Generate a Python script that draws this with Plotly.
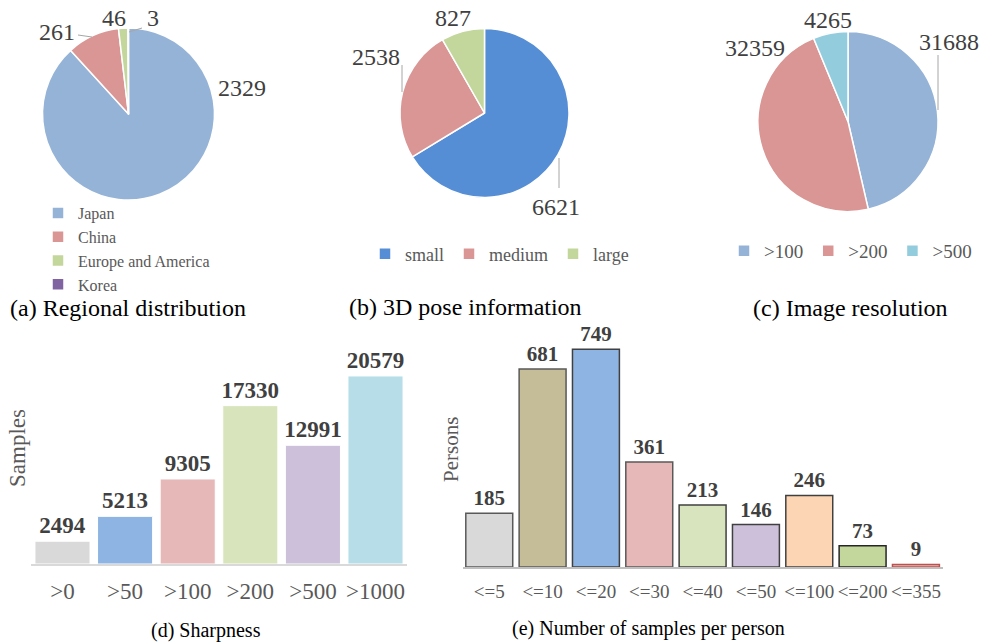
import plotly.graph_objects as go

W, H = 983, 644


def fx(x):
    return x / W


def fy(y):
    return 1 - y / H


FONT = "Liberation Serif"
DARK = "#404040"
GRAY = "#595959"
LEADER = "#A6A6A6"

# ---------------- data ----------------
region_labels = ["Japan", "China", "Europe and America", "Korea"]
region_values = [2329, 261, 46, 3]
region_colors = ["#95B3D7", "#D99694", "#C3D69B", "#8064A2"]

pose_labels = ["small", "medium", "large"]
pose_values = [6621, 2538, 827]
pose_colors = ["#558ED5", "#D99694", "#C3D69B"]

res_labels = [">100", ">200", ">500"]
res_values = [31688, 32359, 4265]
res_colors = ["#95B3D7", "#D99694", "#93CDDD"]

sharp_cats = [">0", ">50", ">100", ">200", ">500", ">1000"]
sharp_vals = [2494, 5213, 9305, 17330, 12991, 20579]
sharp_colors = ["#D9D9D9", "#8DB4E2", "#E6B8B7", "#D8E4BC", "#CCC0DA", "#B7DEE8"]

person_cats = ["<=5", "<=10", "<=20", "<=30", "<=40", "<=50", "<=100", "<=200", "<=355"]
person_vals = [185, 681, 749, 361, 213, 146, 246, 73, 9]
person_colors = ["#D9D9D9", "#C4BD97", "#8DB4E2", "#E6B8B7", "#D7E4BD",
                 "#CCC0DA", "#FCD5B5", "#C3D69B", "#E6B8B7"]
person_edges = ["#595959", "#595959", "#404040", "#595959", "#404040",
                "#404040", "#404040", "#262626", "#C0504D"]

captions = ["(a) Regional distribution", "(b) 3D pose information",
            "(c) Image resolution", "(d) Sharpness",
            "(e) Number of samples per person"]

# ---------------- layout helpers (pixel positions of pie value labels) ----------------
region_label_pos = [(242, 88), (57, 32), (114, 18), (153, 18)]
pose_label_pos = [(556, 207), (376, 57), (453, 18)]
res_label_pos = [(949, 42), (755, 48), (828, 20)]
leader_lines = [((78, 35), (92, 37)), ((129, 32), (142, 28)),
                ((402, 65), (402, 92)), ((559, 158), (559, 188)),
                ((938, 55), (938, 110))]

fig = go.Figure()

pie_common = dict(
    sort=False, direction="clockwise", rotation=0,
    textinfo="none", automargin=False,
    marker_line=dict(color="white", width=1.5),
    hoverinfo="label+value",
)

fig.add_trace(go.Pie(labels=region_labels, values=region_values,
                     marker_colors=region_colors,
                     domain=dict(x=[fx(42.5), fx(214.5)], y=[fy(200), fy(28)]),
                     legend="legend", **pie_common))
fig.add_trace(go.Pie(labels=pose_labels, values=pose_values,
                     marker_colors=pose_colors,
                     domain=dict(x=[fx(400), fx(569)], y=[fy(197.5), fy(28.5)]),
                     legend="legend2", **pie_common))
fig.add_trace(go.Pie(labels=res_labels, values=res_values,
                     marker_colors=res_colors,
                     domain=dict(x=[fx(758), fx(938)], y=[fy(211.5), fy(31.5)]),
                     legend="legend3", **pie_common))

fig.add_trace(go.Bar(x=sharp_cats, y=sharp_vals, marker_color=sharp_colors,
                     marker_line=dict(color="white", width=1),
                     textposition="outside", constraintext="none",
                     textfont=dict(family=FONT, size=23, color=DARK),
                     texttemplate="<b>%{y:d}</b>", cliponaxis=False,
                     showlegend=False, xaxis="x", yaxis="y"))
fig.add_trace(go.Bar(x=person_cats, y=person_vals, marker_color=person_colors,
                     marker_line=dict(color=person_edges, width=1.5),
                     textposition="outside", constraintext="none",
                     textfont=dict(family=FONT, size=21, color=DARK),
                     texttemplate="<b>%{y:d}</b>", cliponaxis=False,
                     showlegend=False, xaxis="x2", yaxis="y2"))

annotations = []
cap_pos = [(128, 308, 24), (465, 307, 24), (850, 308, 24), (206, 630, 20), (648, 628, 20)]
for txt, (cx, cy, fs) in zip(captions, cap_pos):
    annotations.append(dict(text=txt, x=fx(cx), y=fy(cy), xref="paper", yref="paper",
                            showarrow=False, xanchor="center", yanchor="middle",
                            font=dict(family=FONT, size=fs, color="black")))
annotations.append(dict(text="Samples", x=fx(17), y=fy(448), xref="paper", yref="paper",
                        showarrow=False, textangle=-90, xanchor="center", yanchor="middle",
                        font=dict(family=FONT, size=23, color=GRAY)))
annotations.append(dict(text="Persons", x=fx(451), y=fy(450), xref="paper", yref="paper",
                        showarrow=False, textangle=-90, xanchor="center", yanchor="middle",
                        font=dict(family=FONT, size=21, color=GRAY)))

# pie value labels (values come from the data lists)
for vals, poss in ((region_values, region_label_pos), (pose_values, pose_label_pos),
                   (res_values, res_label_pos)):
    for v, (px_, py_) in zip(vals, poss):
        annotations.append(dict(text=f"{v}", x=fx(px_), y=fy(py_), xref="paper", yref="paper",
                                showarrow=False, xanchor="center", yanchor="middle",
                                font=dict(family=FONT, size=24, color=DARK)))

shapes = []
for (x0, y0), (x1, y1) in leader_lines:
    shapes.append(dict(type="line", xref="paper", yref="paper",
                       x0=fx(x0), y0=fy(y0), x1=fx(x1), y1=fy(y1),
                       line=dict(color=LEADER, width=1)))

fig.update_layout(
    width=W, height=H,
    margin=dict(l=0, r=0, t=0, b=0, autoexpand=False),
    paper_bgcolor="white", plot_bgcolor="white",
    font=dict(family=FONT, color=GRAY),
    bargap=0.12,
    annotations=annotations,
    shapes=shapes,
    legend=dict(orientation="v", x=fx(38), y=fy(196), xanchor="left", yanchor="top",
                font=dict(family=FONT, size=16, color=GRAY), itemwidth=30,
                tracegroupgap=0, bgcolor="rgba(0,0,0,0)"),
    legend2=dict(orientation="h", x=fx(365), y=fy(254), xanchor="left", yanchor="middle",
                 font=dict(family=FONT, size=18, color=GRAY), itemwidth=30,
                 bgcolor="rgba(0,0,0,0)"),
    legend3=dict(orientation="h", x=fx(724), y=fy(251), xanchor="left", yanchor="middle",
                 font=dict(family=FONT, size=19, color=GRAY), itemwidth=30,
                 bgcolor="rgba(0,0,0,0)"),
    xaxis=dict(domain=[fx(31.2), fx(406.8)], anchor="y", showline=True,
               linecolor="#D9D9D9", linewidth=1.5, ticks="", showgrid=False,
               tickangle=0, automargin=False,
               tickfont=dict(family=FONT, size=23, color=GRAY), ticklabelstandoff=6),
    yaxis=dict(domain=[fy(564), fy(350)], anchor="x", range=[0, 23420], automargin=False,
               showticklabels=False, showgrid=False, zeroline=False, showline=False),
    xaxis2=dict(domain=[fx(462.6), fx(942.6)], anchor="y2", showline=True,
                linecolor="#BFBFBF", linewidth=1.5, ticks="", showgrid=False,
                tickangle=0, automargin=False,
                tickfont=dict(family=FONT, size=19, color=GRAY), ticklabelstandoff=6),
    yaxis2=dict(domain=[fy(567), fy(330)], anchor="x2", range=[0, 815], automargin=False,
                showticklabels=False, showgrid=False, zeroline=False, showline=False),
)

fig.write_html("out.html", config={"displayModeBar": False},
               post_script="document.body.style.margin='0';")
